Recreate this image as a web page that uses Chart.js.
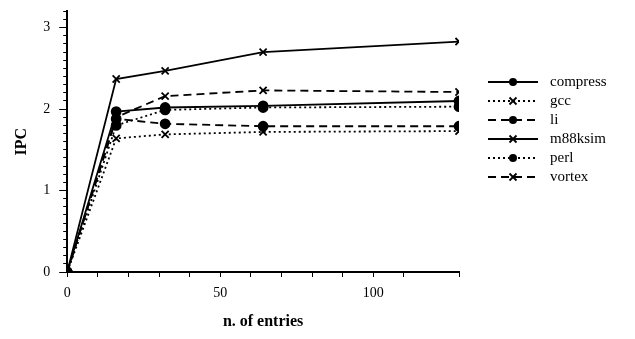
<!DOCTYPE html>
<html>
<head>
<meta charset="utf-8">
<script src="https://cdn.jsdelivr.net/npm/chart.js@4"></script>
<style>
  html, body { margin: 0; padding: 0; background: #fff; }
  #wrap { width: 635px; height: 339px; }
</style>
</head>
<body>
<div id="wrap"><canvas id="ipcChart"></canvas></div>
<script>
// number of entries (x) and IPC per benchmark
var entries = [0, 16, 32, 64, 128];
var compress = [0, 1.97, 2.02, 2.04, 2.10];
var gcc = [0, 1.64, 1.69, 1.72, 1.73];
var li = [0, 1.88, 1.82, 1.79, 1.79];
var m88ksim = [0, 2.37, 2.47, 2.70, 2.83];
var perl = [0, 1.80, 1.99, 2.02, 2.03];
var vortex = [0, 1.90, 2.16, 2.23, 2.21];

var DOTTED = [2, 3];
var DASHED = [8, 5];

function series(label, values, dash, marker) {
    return {
        label: label,
        data: entries.map(function (x, i) { return { x: x, y: values[i] }; }),
        borderColor: '#000',
        backgroundColor: '#000',
        borderWidth: 1.8,
        borderDash: dash,
        pointStyle: marker,
        pointRadius: marker === 'circle' ? 4.5 : 5,
        pointBorderWidth: 1.8,
        tension: 0
    };
}

function isWhole(v) { return Math.abs(v - Math.round(v)) < 1e-6; }

// legend drawn at the right: line sample with marker, then name
var sideLegend = {
    id: 'sideLegend',
    afterDraw: function (chart) {
        var c = chart.ctx;
        var x0 = 488, x1 = 538, y = 82, gap = 19;
        c.save();
        chart.data.datasets.forEach(function (ds) {
            c.strokeStyle = '#000';
            c.fillStyle = '#000';
            c.lineWidth = 1.8;
            c.setLineDash(ds.borderDash);
            c.beginPath();
            c.moveTo(x0, y);
            c.lineTo(x1, y);
            c.stroke();
            c.setLineDash([]);
            var mx = (x0 + x1) / 2;
            if (ds.pointStyle === 'circle') {
                c.beginPath();
                c.arc(mx, y, 4, 0, Math.PI * 2);
                c.fill();
            } else {
                c.beginPath();
                c.moveTo(mx - 3.5, y - 3.5); c.lineTo(mx + 3.5, y + 3.5);
                c.moveTo(mx + 3.5, y - 3.5); c.lineTo(mx - 3.5, y + 3.5);
                c.stroke();
            }
            c.font = '15px "Liberation Serif"';
            c.textBaseline = 'middle';
            c.fillText(ds.label, 550, y);
            y += gap;
        });
        c.restore();
    }
};

var ctx = document.getElementById('ipcChart').getContext('2d');
var chart = new Chart(ctx, {
    type: 'line',
    data: {
        datasets: [
            series('compress', compress, [], 'circle'),
            series('gcc', gcc, DOTTED, 'crossRot'),
            series('li', li, DASHED, 'circle'),
            series('m88ksim', m88ksim, [], 'crossRot'),
            series('perl', perl, DOTTED, 'circle'),
            series('vortex', vortex, DASHED, 'crossRot')
        ]
    },
    options: {
        responsive: true,
        maintainAspectRatio: false,
        animation: false,
        layout: { padding: { left: 8, right: 176, top: 1, bottom: 4 } },
        scales: {
            x: {
                type: 'linear',
                min: 0,
                max: 128,
                border: { display: true, color: '#000', width: 2 },
                grid: { drawOnChartArea: false, color: '#000', tickLength: 5, tickColor: '#000' },
                ticks: {
                    stepSize: 10,
                    padding: 8,
                    color: '#000',
                    font: { family: 'Liberation Serif', size: 14 },
                    maxRotation: 0,
                    autoSkip: false,
                    callback: function (v) { return v % 50 === 0 ? v : ''; }
                },
                title: {
                    display: true,
                    text: 'n. of entries',
                    color: '#000',
                    font: { family: 'Liberation Serif', size: 16, weight: 'bold' },
                    padding: { top: 2 }
                }
            },
            y: {
                min: 0,
                max: 3.2,
                border: { display: true, color: '#000', width: 2 },
                grid: {
                    drawOnChartArea: false,
                    color: '#000',
                    tickColor: '#000',
                    tickLength: 14,
                    // hide the outer part of each tick so only a short mark sits on the axis
                    tickBorderDash: function (c) {
                        return c.tick && isWhole(c.tick.value) ? [0, 6, 8, 100] : [0, 10, 4, 100];
                    }
                },
                ticks: {
                    stepSize: 0.1,
                    padding: 3,
                    color: '#000',
                    font: { family: 'Liberation Serif', size: 14 },
                    autoSkip: false,
                    callback: function (v) { return isWhole(v) ? Math.round(v) : ''; }
                },
                title: {
                    display: true,
                    text: 'IPC',
                    color: '#000',
                    font: { family: 'Liberation Serif', size: 16, weight: 'bold' },
                    padding: { top: 4, bottom: 9 }
                }
            }
        },
        plugins: {
            legend: { display: false },
            tooltip: { enabled: false },
            title: { display: false }
        }
    },
    plugins: [sideLegend]
});
</script>
</body>
</html>
